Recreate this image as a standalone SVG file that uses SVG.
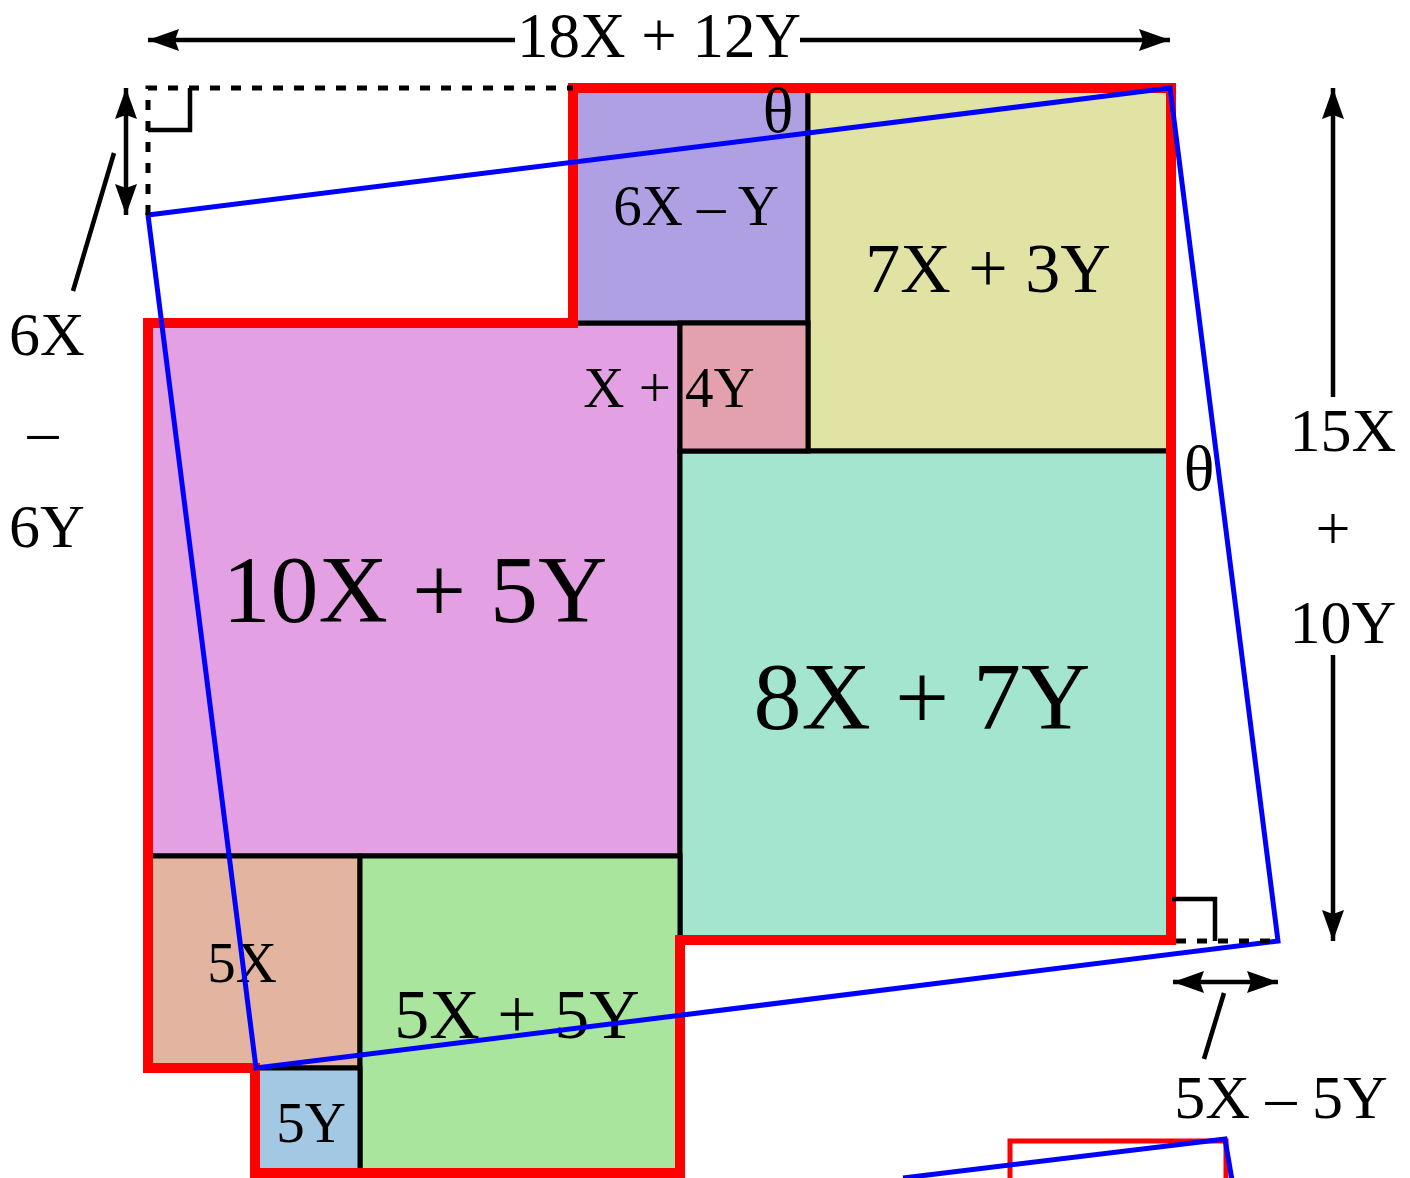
<svg xmlns="http://www.w3.org/2000/svg" width="1410" height="1178" viewBox="0 0 1410 1178">
<style>
.box{stroke:#000;stroke-width:5}
.t{font-family:"Liberation Serif","Times New Roman",serif;fill:#000;text-anchor:middle}
.red{fill:none;stroke:#ff0000;stroke-width:10;stroke-linejoin:miter}
.blue{fill:none;stroke:#0000ff;stroke-width:5;stroke-linejoin:miter}
.ln{fill:none;stroke:#000;stroke-width:4.5}
.dash{fill:none;stroke:#000;stroke-width:5;stroke-dasharray:10 11}
.arr{fill:none;stroke:#000;stroke-width:4.5;marker-end:url(#ah)}
.arr2{fill:none;stroke:#000;stroke-width:4.5;marker-start:url(#ah);marker-end:url(#ah)}
</style>
<defs>
<marker id="ah" viewBox="0 0 31 22" refX="31" refY="11" markerWidth="31" markerHeight="22" markerUnits="userSpaceOnUse" orient="auto-start-reverse">
<path d="M0,0 L31,11 L0,22 L4,11 Z" fill="#000"/>
</marker>
</defs>
<rect width="1410" height="1178" fill="#fff"/>

<g id="n10x5y"><rect class="box" x="148" y="323" width="532" height="533" fill="#e3a0e3"/><text class="t" x="415" y="622" font-size="96">10X + 5Y</text></g>
<g id="n6xy"><rect class="box" x="573" y="88" width="235" height="235" fill="#aea0e3"/><text class="t" x="696" y="225" font-size="57">6X – Y</text></g>
<g id="n7x3y"><rect class="box" x="808" y="88" width="363" height="363" fill="#e0e3a3"/><text class="t" x="988" y="292" font-size="70">7X + 3Y</text></g>
<g id="n8x7y"><rect class="box" x="680" y="451" width="491" height="489" fill="#a3e5cf"/><text class="t" x="922" y="729" font-size="96">8X + 7Y</text></g>
<g id="n5x"><rect class="box" x="148" y="856" width="212" height="212" fill="#e3b4a0"/><text class="t" x="242" y="982" font-size="57">5X</text></g>
<g id="n5x5y"><rect class="box" x="360" y="856" width="320" height="317" fill="#aae59e"/><text class="t" x="517" y="1038" font-size="70">5X + 5Y</text></g>
<g id="n5y"><rect class="box" x="255" y="1068" width="105" height="105" fill="#a3c8e3"/><text class="t" x="311" y="1142" font-size="57">5Y</text></g>
<g id="nx4y"><rect class="box" x="680" y="323" width="128" height="128" fill="#e3a0ad"/><text class="t" x="669" y="407" font-size="57">X + 4Y</text></g>

<g id="outline">
<path class="red" d="M573,88 H1171 V940 H680 V1173 H255 V1068 H148 V323 H573 Z"/>
</g>

<g id="angles">
<text class="t" x="778" y="132" font-size="64">θ</text>
<text class="t" x="1199" y="490" font-size="64">θ</text>
</g>

<g id="tilted">
<path class="blue" d="M148,215 L1170,88 L1278,941 L256,1068 Z"/>
</g>

<g id="copy">
<path d="M1010,1180 V1141 H1226 V1180" fill="none" stroke="#ff0000" stroke-width="5"/>
<path class="blue" d="M903,1178 L1225,1139 L1232,1180"/>
</g>

<g id="connectors">
<path class="dash" d="M148,215 V88 H573"/>
<path class="dash" d="M1176,941 H1278"/>
<path class="ln" d="M148,130 H190 V88"/>
<path class="ln" d="M1172,899 H1215 V941"/>
<path class="arr" d="M515,40 H148"/>
<path class="arr" d="M800,40 H1170"/>
<path class="arr" d="M1333,397 V88"/>
<path class="arr" d="M1333,655 V941"/>
<path class="arr2" d="M126,88 V215"/>
<path class="arr2" d="M1173,982 H1278"/>
<path class="ln" d="M114,153 L73,291"/>
<path class="ln" d="M1224,993 L1204,1059"/>
</g>

<g id="dims">
<text class="t" x="659" y="57" font-size="63">18X + 12Y</text>
<text class="t" x="47" y="355" font-size="62">6X</text>
<text class="t" x="43" y="452" font-size="62">–</text>
<text class="t" x="47" y="547" font-size="62">6Y</text>
<text class="t" x="1343" y="451" font-size="62">15X</text>
<text class="t" x="1333" y="549" font-size="62">+</text>
<text class="t" x="1343" y="643" font-size="62">10Y</text>
<text class="t" x="1281" y="1118" font-size="62">5X – 5Y</text>
</g>
</svg>
